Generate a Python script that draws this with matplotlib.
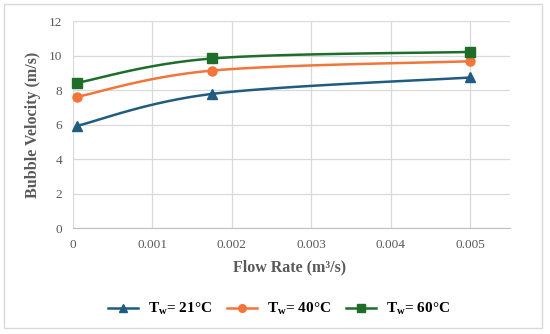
import numpy as np
import matplotlib
matplotlib.use("Agg")
import matplotlib.pyplot as plt
from matplotlib.patches import Rectangle
from matplotlib.lines import Line2D

flow = [0.00005, 0.00175, 0.005]
v21 = [5.93, 7.78, 8.73]
v40 = [7.61, 9.13, 9.67]
v60 = [8.42, 9.83, 10.21]
labels = [r"$\mathbf{T_w}$= 21°C", r"$\mathbf{T_w}$= 40°C", r"$\mathbf{T_w}$= 60°C"]
xticks = [0, 0.001, 0.002, 0.003, 0.004, 0.005]
xticklabels = ["0", "0.001", "0.002", "0.003", "0.004", "0.005"]
yticks = [0, 2, 4, 6, 8, 10, 12]

colors = ["#1F5C80", "#F2753A", "#1E6E2A"]
markers = ["^", "o", "s"]

plt.rcParams['font.family'] = ['Liberation Serif', 'DejaVu Serif']
plt.rcParams['mathtext.fontset'] = 'custom'
plt.rcParams['mathtext.rm'] = 'Liberation Serif'
plt.rcParams['mathtext.bf'] = 'Liberation Serif:bold'

fig = plt.figure(figsize=(5.5, 3.34), dpi=100)
ax = fig.add_axes([73/550, 1-228.3/334, (510-73)/550, (228.3-21)/334])

XMAX, YMAX = 0.0055, 12
SX, SY = 437/XMAX, 207.3/YMAX


def smooth(xs, ys, n=40):
    P = np.column_stack([np.array(xs) * SX, np.array(ys) * SY])
    pts = []
    m = len(P)
    for i in range(m - 1):
        p0 = P[max(i - 1, 0)]
        p1 = P[i]
        p2 = P[i + 1]
        p3 = P[min(i + 2, m - 1)]
        c1 = p1 + (p2 - p0) / 6
        c2 = p2 - (p3 - p1) / 6
        t = np.linspace(0, 1, n)[:, None]
        seg = (1-t)**3*p1 + 3*(1-t)**2*t*c1 + 3*(1-t)*t**2*c2 + t**3*p2
        pts.append(seg if i == 0 else seg[1:])
    pts = np.vstack(pts)
    return pts[:, 0] / SX, pts[:, 1] / SY


handles = []
for ys, c, mk, lab in zip([v21, v40, v60], colors, markers, labels):
    sx, sy = smooth(flow, ys)
    ax.plot(sx, sy, color=c, lw=1.8, zorder=3, clip_on=False)
    ax.plot(flow, ys, ls='none', marker=mk, color=c, ms=6.5, zorder=4, clip_on=False)
    handles.append(Line2D([], [], color=c, lw=1.8, marker=mk, ms=5.5, label=lab))

ax.set_xlim(0, XMAX)
ax.set_ylim(0, YMAX)
ax.set_xticks(xticks)
ax.set_xticklabels(xticklabels)
ax.set_yticks(yticks)
ax.grid(True, color='#D9D9D9', lw=0.9)
ax.set_axisbelow(True)
for s in ['top', 'right', 'left']:
    ax.spines[s].set_visible(False)
ax.spines['bottom'].set_color('#BFBFBF')
ax.tick_params(length=0, colors='#595959', labelsize=9.5, pad=8)
for t in ax.get_xticklabels() + ax.get_yticklabels():
    t.set_color('#595959')

fig.text(290/550, 1-267/334, "Flow Rate (m³/s)", ha='center', va='center',
         fontsize=11.5, fontweight='bold', color='#595959')
fig.text(33/550, 1-125/334, "Bubble Velocity (m/s)", ha='center', va='center',
         rotation=90, fontsize=11.5, fontweight='bold', color='#595959')

leg = fig.legend(handles=handles, loc='center', bbox_to_anchor=(279/550, 1-309/334),
                 ncol=3, frameon=False, fontsize=11, handlelength=1.95,
                 columnspacing=1.0, handletextpad=0.65)
for t in leg.get_texts():
    t.set_fontweight('bold')
    t.set_color('#000000')

fig.patches.append(Rectangle((4/550, 1-328/334), 538/550, 324/334, transform=fig.transFigure,
                             fill=False, edgecolor='#D9D9D9', lw=1))

fig.savefig("out.png", dpi=100)
